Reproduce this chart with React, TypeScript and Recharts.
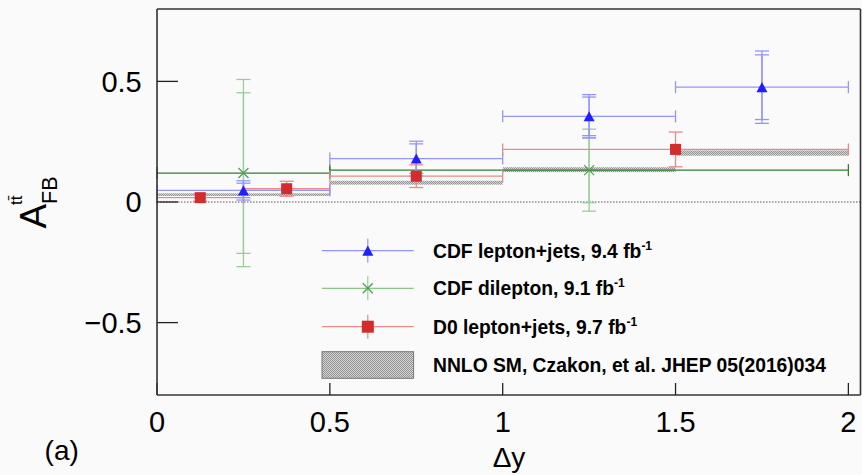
import React from 'react';
import {
  ComposedChart,
  Scatter,
  XAxis,
  YAxis,
  ErrorBar,
  ReferenceArea,
  ReferenceLine,
  Legend,
} from 'recharts';

const W = 862;
const H = 475;
const FONT = "'Liberation Sans', Arial, Helvetica, sans-serif";

// Axis ticks (ROOT style: minor every 0.1, labelled majors every 0.5)
const xTicks = [0, 0.1, 0.2, 0.3, 0.4, 0.5, 0.6, 0.7, 0.8, 0.9, 1.0, 1.1, 1.2, 1.3, 1.4, 1.5, 1.6, 1.7, 1.8, 1.9, 2.0];
const xMajorTicks = [0, 0.5, 1, 1.5, 2];
const xMajorLabels = ['0', '0.5', '1', '1.5', '2'];
const yTicks = [-0.8, -0.7, -0.6, -0.5, -0.4, -0.3, -0.2, -0.1, 0, 0.1, 0.2, 0.3, 0.4, 0.5, 0.6, 0.7, 0.8];
const yMajorTicks = [-0.5, 0, 0.5];
const yMajorLabels = ['\u22120.5', '0', '0.5'];

// CDF lepton+jets, 9.4 fb^-1
const cdfLjCentre = [0.25, 0.75, 1.25, 1.75];
const cdfLjHalfBin = [0.25, 0.25, 0.25, 0.25];
const cdfLjAfb = [0.048, 0.18, 0.355, 0.476];
const cdfLjStatErr = [0.03, 0.061, 0.08, 0.134];
const cdfLjTotalErr = [0.04, 0.072, 0.09, 0.15];

// CDF dilepton, 9.1 fb^-1
const cdfDilCentre = [0.25, 1.25];
const cdfDilHalfBin = [0.25, 0.75];
const cdfDilAfb = [0.12, 0.132];
const cdfDilStatErr = [0.333, 0.135];
const cdfDilTotalErr = [0.388, 0.17];

// D0 lepton+jets, 9.7 fb^-1
const d0LjCentre = [0.125, 0.375, 0.75, 1.5];
const d0LjHalfBin = [0.125, 0.125, 0.25, 0.5];
const d0LjAfb = [0.018, 0.055, 0.107, 0.218];
const d0LjTotalErr = [0.015, 0.031, 0.047, 0.072];

// NNLO SM prediction band per |Δy| bin
const nnloBinLow = [0, 0.5, 1.0, 1.5];
const nnloBinHigh = [0.5, 1.0, 1.5, 2.0];
const nnloBandLow = [0.025, 0.072, 0.124, 0.192];
const nnloBandHigh = [0.036, 0.088, 0.144, 0.214];

// Legend entries
const legendLabels = [
  'CDF lepton+jets, 9.4 fb',
  'CDF dilepton, 9.1 fb',
  'D0 lepton+jets, 9.7 fb',
  'NNLO SM, Czakon, et al. JHEP 05(2016)034',
];
const legendSuperscripts = ['-1', '-1', '-1', ''];

const BLUE = '#1f1fff';
const BLUE_LINE = '#9494ff';
const GREEN = '#4f9f4f';
const GREEN_H = '#2f7f2f';
const GREEN_V = '#9ccc9c';
const RED = '#d22c2c';
const RED_LINE = '#e68a8a';
const TICK = '#222';

const toPoints = (centre: number[], half: number[], afb: number[], inner: number[], outer: number[]) =>
  centre.map((x, i) => ({ x, y: afb[i], xErr: half[i], inner: inner[i], outer: outer[i] }));

const cdfLj = toPoints(cdfLjCentre, cdfLjHalfBin, cdfLjAfb, cdfLjStatErr, cdfLjTotalErr);
const cdfDil = toPoints(cdfDilCentre, cdfDilHalfBin, cdfDilAfb, cdfDilStatErr, cdfDilTotalErr);
const d0Lj = toPoints(d0LjCentre, d0LjHalfBin, d0LjAfb, d0LjTotalErr, d0LjTotalErr);

const labelIndex = (majors: number[], v: number) => majors.findIndex((m) => Math.abs(m - v) < 1e-6);

// Tick label renderers (the tick marks themselves are the axes' own tick lines)
const BottomLabel = (props: any) => {
  const { x, y, payload } = props;
  const i = labelIndex(xMajorTicks, payload.value);
  if (i < 0) return <g />;
  return (
    <text x={x} y={y} textAnchor="middle" fontSize={29} fontFamily={FONT} fill="#000">
      {xMajorLabels[i]}
    </text>
  );
};

const LeftLabel = (props: any) => {
  const { x, y, payload } = props;
  const i = labelIndex(yMajorTicks, payload.value);
  if (i < 0) return <g />;
  return (
    <text x={x} y={y + 10.3} textAnchor="end" fontSize={29} fontFamily={FONT} fill="#000">
      {yMajorLabels[i]}
    </text>
  );
};

const YTitle = () => (
  <g transform="translate(45.5, 228.5) rotate(-90)" fontFamily={FONT} fill="#000">
    <text x={0} y={0} fontSize={37}>A</text>
    <text x={24.5} y={11.7} fontSize={21.5}>FB</text>
    <text x={23.5} y={-24} fontSize={17}>{'tt\u0304'}</text>
  </g>
);

const XTitle = () => (
  <g fontFamily={FONT} fill="#000">
    <text x={509} y={467.3} fontSize={28} textAnchor="middle">Δy</text>
    <text x={61.7} y={460.3} fontSize={28} textAnchor="middle">(a)</text>
  </g>
);

const Hatch = ({ id }: { id: string }) => (
  <pattern id={id} width={2} height={2} patternUnits="userSpaceOnUse">
    <rect width={2} height={2} fill="#d6d6d6" />
    <rect width={1} height={1} fill="#929292" />
    <rect x={1} y={1} width={1} height={1} fill="#929292" />
  </pattern>
);

const bandShape = (id: string) => (props: any) => {
  const { x, y, width, height } = props;
  return (
    <g>
      <defs>
        <Hatch id={id} />
      </defs>
      <rect x={x} y={y} width={width} height={height} fill={`url(#${id})`} />
    </g>
  );
};

const triangleShape = (p: any) => {
  const { cx, cy } = p;
  return <path d={`M${cx},${cy - 5.2} L${cx + 5.5},${cy + 5} L${cx - 5.5},${cy + 5} Z`} fill={BLUE} />;
};

const squareShape = (p: any) => {
  const { cx, cy } = p;
  return <rect x={cx - 5.5} y={cy - 5.5} width={11} height={11} fill={RED} />;
};

const crossShape = (p: any) => {
  const { cx, cy } = p;
  return (
    <g stroke={GREEN} strokeWidth={1.3}>
      <line x1={cx - 5} y1={cy - 5} x2={cx + 5} y2={cy + 5} />
      <line x1={cx - 5} y1={cy + 5} x2={cx + 5} y2={cy - 5} />
    </g>
  );
};

const legendRowY = [250.7, 288.3, 326.7, 365];

const LegendPanel = () => {
  const x0 = 322;
  const x1 = 413.6;
  const xm = (x0 + x1) / 2;
  return (
    <svg width={W} height={H} style={{ display: 'block' }}>
      <defs>
        <Hatch id="legend-hatch" />
      </defs>
      <g>
        <line x1={x0} y1={legendRowY[0]} x2={x1} y2={legendRowY[0]} stroke={BLUE_LINE} strokeWidth={1.2} />
        <line x1={xm} y1={legendRowY[0] - 12} x2={xm} y2={legendRowY[0] + 12} stroke={BLUE_LINE} strokeWidth={1.2} />
        {triangleShape({ cx: xm, cy: legendRowY[0] })}
      </g>
      <g>
        <line x1={x0} y1={legendRowY[1]} x2={x1} y2={legendRowY[1]} stroke="#8cc48c" strokeWidth={1.2} />
        <line x1={xm} y1={legendRowY[1] - 12} x2={xm} y2={legendRowY[1] + 12} stroke={GREEN_V} strokeWidth={1.2} />
        {crossShape({ cx: xm, cy: legendRowY[1] })}
      </g>
      <g>
        <line x1={x0} y1={legendRowY[2]} x2={x1} y2={legendRowY[2]} stroke={RED_LINE} strokeWidth={1.2} />
        <line x1={xm} y1={legendRowY[2] - 12} x2={xm} y2={legendRowY[2] + 12} stroke={RED_LINE} strokeWidth={1.2} />
        <rect x={xm - 6} y={legendRowY[2] - 6} width={12} height={12} fill={RED} />
      </g>
      <rect
        x={x0}
        y={legendRowY[3] - 13.3}
        width={x1 - x0}
        height={26.6}
        fill="url(#legend-hatch)"
        stroke="#777"
        strokeWidth={1}
      />
      {legendLabels.map((label, i) => (
        <text key={label} x={433} y={legendRowY[i] + 7} fontFamily={FONT} fontWeight="bold" fontSize={19.3} fill="#000">
          {label}
          {legendSuperscripts[i] && (
            <tspan dy={-8} fontSize={12}>
              {legendSuperscripts[i]}
            </tspan>
          )}
        </text>
      ))}
    </svg>
  );
};

const frame = { stroke: '#333', strokeWidth: 1.6 };
const tickStroke = { stroke: TICK, strokeWidth: 1.3 };
const X_DOMAIN: [number, number] = [0, 2.035];
const Y_DOMAIN: [number, number] = [-0.8, 0.8];
// axes sit on the frame edges; a hair of size keeps them rendered
const THIN = 0.01;

export default function App() {
  return (
    <div style={{ position: 'fixed', left: 0, top: 0, width: W, height: H, background: '#fafafa' }}>
      <ComposedChart width={W} height={H} margin={{ top: 9, right: 1.5, bottom: 80, left: 157 }}>
        {/* bottom: minor ticks + frame line */}
        <XAxis
          type="number"
          dataKey="x"
          domain={X_DOMAIN}
          ticks={xTicks}
          interval={0}
          allowDataOverflow
          tickSize={-6}
          tickLine={tickStroke}
          tick={false}
          axisLine={frame}
          height={THIN}
          label={<XTitle />}
        />
        {/* bottom: major ticks + labels */}
        <XAxis
          xAxisId="bottomMajor"
          type="number"
          dataKey="x"
          domain={X_DOMAIN}
          ticks={xMajorTicks}
          interval={0}
          allowDataOverflow
          tickSize={-12}
          tickMargin={48.7}
          tickLine={tickStroke}
          tick={BottomLabel}
          axisLine={false}
          height={THIN}
        />
        {/* top frame */}
        <XAxis
          xAxisId="top"
          orientation="top"
          type="number"
          dataKey="x"
          domain={X_DOMAIN}
          ticks={xTicks}
          interval={0}
          allowDataOverflow
          tickSize={-6}
          tickLine={tickStroke}
          tick={false}
          axisLine={frame}
          height={THIN}
        />
        <XAxis
          xAxisId="topMajor"
          orientation="top"
          type="number"
          dataKey="x"
          domain={X_DOMAIN}
          ticks={xMajorTicks}
          interval={0}
          allowDataOverflow
          tickSize={-12}
          tickLine={tickStroke}
          tick={false}
          axisLine={false}
          height={THIN}
        />
        {/* left: minor ticks + frame line */}
        <YAxis
          type="number"
          dataKey="y"
          domain={Y_DOMAIN}
          ticks={yTicks}
          interval={0}
          allowDataOverflow
          tickSize={-11}
          tickLine={tickStroke}
          tick={false}
          axisLine={frame}
          width={THIN}
          label={<YTitle />}
        />
        {/* left: major ticks + labels */}
        <YAxis
          yAxisId="leftMajor"
          type="number"
          dataKey="y"
          domain={Y_DOMAIN}
          ticks={yMajorTicks}
          interval={0}
          allowDataOverflow
          tickSize={-21}
          tickMargin={36.3}
          tickLine={tickStroke}
          tick={LeftLabel}
          axisLine={false}
          width={THIN}
        />
        {/* right frame */}
        <YAxis
          yAxisId="right"
          orientation="right"
          type="number"
          dataKey="y"
          domain={Y_DOMAIN}
          ticks={yTicks}
          interval={0}
          allowDataOverflow
          tickSize={-8}
          tickLine={tickStroke}
          tick={false}
          axisLine={frame}
          width={THIN}
        />
        <YAxis
          yAxisId="rightMajor"
          orientation="right"
          type="number"
          dataKey="y"
          domain={Y_DOMAIN}
          ticks={yMajorTicks}
          interval={0}
          allowDataOverflow
          tickSize={-18}
          tickLine={tickStroke}
          tick={false}
          axisLine={false}
          width={THIN}
        />

        {nnloBinLow.map((lo, i) => (
          <ReferenceArea
            key={`nnlo-${i}`}
            x1={lo}
            x2={nnloBinHigh[i]}
            y1={nnloBandLow[i]}
            y2={nnloBandHigh[i]}
            shape={bandShape(`nnlo-hatch-${i}`)}
          />
        ))}

        <ReferenceLine y={0} stroke="#555" strokeWidth={1.2} strokeDasharray="1.5 1.5" />

        <Scatter name="CDF dilepton" data={cdfDil} isAnimationActive={false} shape={crossShape}>
          <ErrorBar dataKey="xErr" direction="x" width={6} stroke={GREEN_H} strokeWidth={1.3} />
          <ErrorBar dataKey="outer" direction="y" width={7} stroke={GREEN_V} strokeWidth={1.3} />
          <ErrorBar dataKey="inner" direction="y" width={7} stroke={GREEN_V} strokeWidth={1.3} />
        </Scatter>

        <Scatter name="D0 lepton+jets" data={d0Lj} isAnimationActive={false} shape={squareShape}>
          <ErrorBar dataKey="xErr" direction="x" width={6} stroke={RED_LINE} strokeWidth={1.3} />
          <ErrorBar dataKey="outer" direction="y" width={7} stroke={RED_LINE} strokeWidth={1.3} />
        </Scatter>

        <Scatter name="CDF lepton+jets" data={cdfLj} isAnimationActive={false} shape={triangleShape}>
          <ErrorBar dataKey="xErr" direction="x" width={6} stroke={BLUE_LINE} strokeWidth={1.3} />
          <ErrorBar dataKey="outer" direction="y" width={7} stroke={BLUE_LINE} strokeWidth={1.3} />
          <ErrorBar dataKey="inner" direction="y" width={7} stroke={BLUE_LINE} strokeWidth={1.3} />
        </Scatter>

        <Legend
          layout="horizontal"
          verticalAlign="middle"
          align="center"
          content={<LegendPanel />}
          wrapperStyle={{ left: 0, top: 0, width: W, height: H, pointerEvents: 'none' }}
        />
      </ComposedChart>
    </div>
  );
}
